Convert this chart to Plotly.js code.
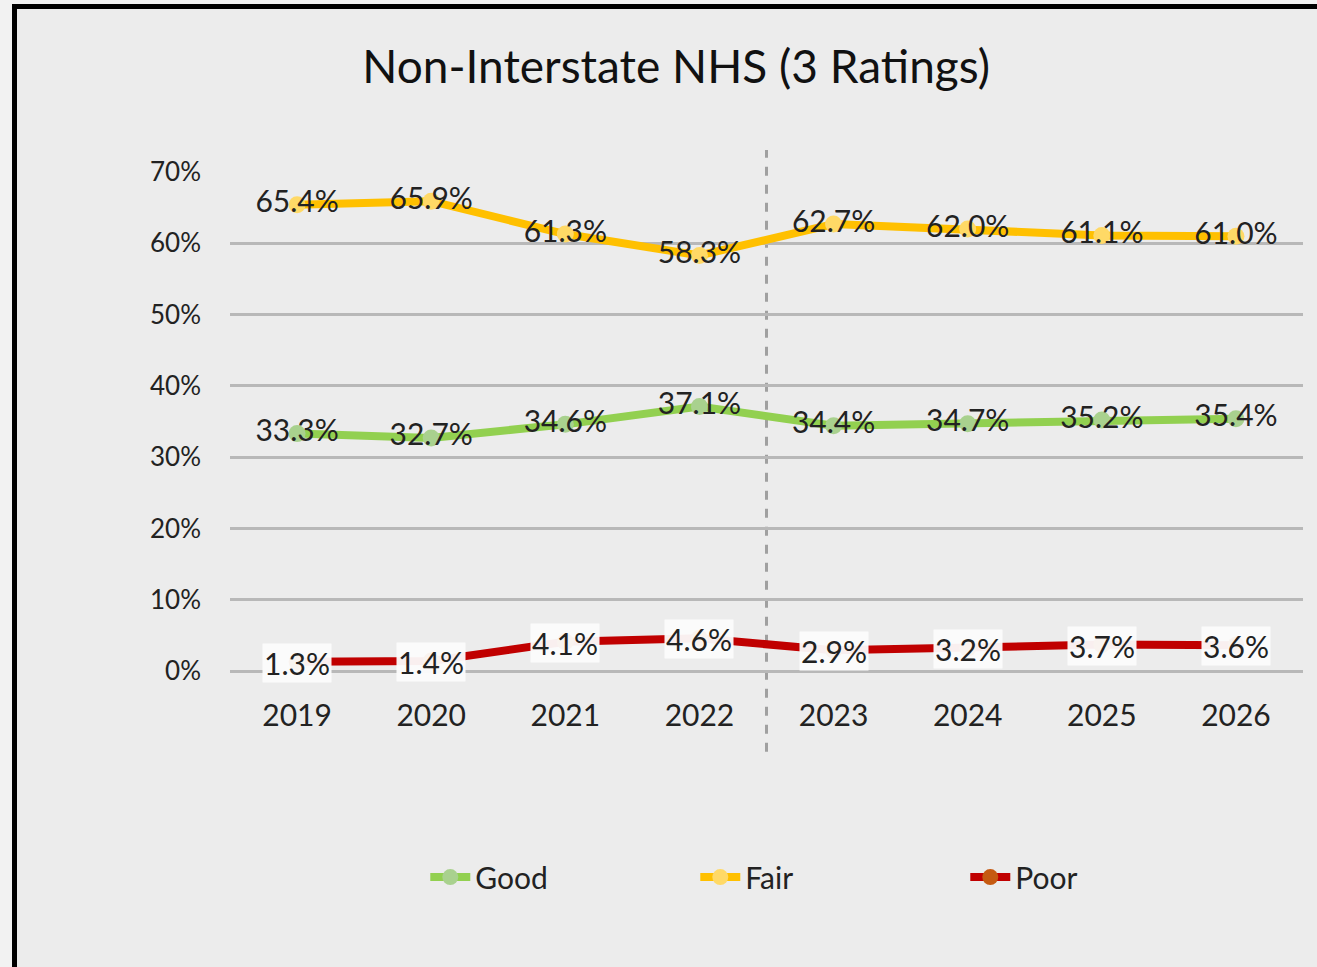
<!DOCTYPE html>
<html>
<head>
<meta charset="utf-8">
<script src="https://cdn.plot.ly/plotly-3.0.1.min.js"></script>
<style>
  html, body { margin: 0; padding: 0; width: 1317px; height: 967px; overflow: hidden; background: #f2f2f2; }
  #frame { position: absolute; left: 12px; top: 4px; width: 1300px; height: 958px;
           border-left: 5px solid #000; border-top: 5px solid #000; }
  #chart { width: 1300px; height: 958px; }
</style>
</head>
<body>
<div id="frame"><div id="chart"></div></div>
<script>
const years = ['2019', '2020', '2021', '2022', '2023', '2024', '2025', '2026'];
const good = [33.3, 32.7, 34.6, 37.1, 34.4, 34.7, 35.2, 35.4];
const fair = [65.4, 65.9, 61.3, 58.3, 62.7, 62.0, 61.1, 61.0];
const poor = [1.3, 1.4, 4.1, 4.6, 2.9, 3.2, 3.7, 3.6];
const yTicks = [0, 10, 20, 30, 40, 50, 60, 70];
const yTickText = yTicks.map(v => v + '%');

const FONT = 'Lato, "Open Sans", sans-serif';

function series(name, vals, lineColor, markerColor, withText) {
  const t = {
    type: 'scatter', mode: withText ? 'lines+markers+text' : 'lines+markers', name: name,
    x: years, y: vals,
    line: { color: lineColor, width: 8 },
    marker: { color: markerColor, size: 17 },
    cliponaxis: false,
    hoverinfo: 'skip'
  };
  if (withText) {
    t.texttemplate = '%{y:.1f}%';
    t.textposition = 'middle center';
    t.textfont = { family: FONT, size: 30, color: '#222' };
  }
  return t;
}

const data = [
  series('Good', good, '#92D050', '#A9D18E', true),
  series('Fair', fair, '#FFC000', '#FFD966', true),
  series('Poor', poor, '#C00000', '#C55A11', false)
];

// Poor labels sit on a soft white box that hides the line and markers
// (category index used as x so numeric-looking year names are not read as numbers)
const poorLabels = years.map((yr, i) => ({
  x: years.indexOf(yr), y: poor[i], xref: 'x', yref: 'y',
  text: poor[i].toFixed(1) + '%', showarrow: false,
  font: { family: FONT, size: 30, color: '#222' },
  bgcolor: 'rgba(252,252,252,0.95)', borderpad: 1, yshift: -1
}));

const layout = {
  width: 1300, height: 958,
  paper_bgcolor: '#ececec', plot_bgcolor: 'rgba(0,0,0,0)',
  margin: { l: 213, r: 14, t: 163, b: 296 },
  font: { family: FONT, color: '#222' },
  title: { text: 'Non-Interstate NHS (3 Ratings)', font: { family: FONT, size: 46, color: '#111' },
           x: 0.507, xanchor: 'center', y: 0.9395, yanchor: 'middle' },
  xaxis: { type: 'category', range: [-0.5, 7.5], showgrid: false, zeroline: false, showline: false,
           tickfont: { size: 30, family: FONT, color: '#222' }, ticks: '', ticklabelstandoff: 24 },
  yaxis: { range: [0, 70], tickmode: 'array', tickvals: yTicks, ticktext: yTickText, showgrid: true,
           gridcolor: '#b8b8b8', gridwidth: 3, zeroline: true, zerolinecolor: '#b8b8b8', zerolinewidth: 3,
           showline: false, tickfont: { size: 26, family: FONT, color: '#222' }, ticks: '',
           ticklabelstandoff: 28 },
  shapes: [{ type: 'line', xref: 'x', yref: 'paper', x0: 3.5, x1: 3.5, y0: -0.162, y1: 1.044,
             line: { color: '#a0a0a0', width: 3, dash: 'dash' }, layer: 'below' }],
  annotations: poorLabels,
  legend: { orientation: 'h', x: 0.182, xanchor: 'left', y: -0.413, yanchor: 'middle',
            font: { size: 30, family: FONT, color: '#222' }, entrywidth: 215, itemwidth: 40,
            bgcolor: 'rgba(0,0,0,0)' },
  showlegend: true
};

Plotly.newPlot('chart', data, layout, { displayModeBar: false, staticPlot: true });
</script>
</body>
</html>
